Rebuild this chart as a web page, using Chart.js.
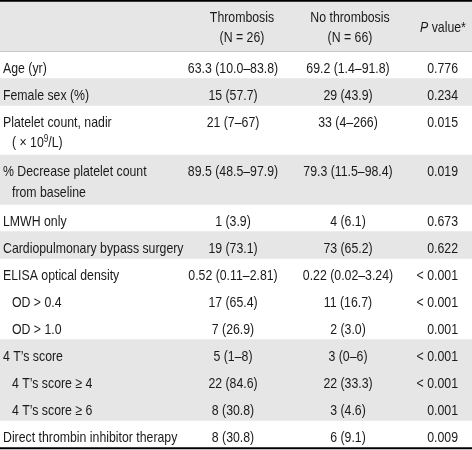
<!DOCTYPE html>
<html>
<head>
<meta charset="utf-8">
<script src="https://cdn.jsdelivr.net/npm/chart.js@4.4.1/dist/chart.umd.min.js"></script>
<style>
  html, body { margin: 0; padding: 0; background: #fff; }
  canvas { display: block; }
</style>
</head>
<body>
<canvas id="table" width="472" height="450"></canvas>
<script>
// ===== Data =====
// Markup: _x_ = italic, ^{x} = superscript, \n = wrapped line
const headers = ['', 'Thrombosis\n(N = 26)', 'No thrombosis\n(N = 66)', '_P_ value*'];

const rowLabels = [
  'Age (yr)',
  'Female sex (%)',
  'Platelet count, nadir\n( × 10^{9}/L)',
  '% Decrease platelet count\nfrom baseline',
  'LMWH only',
  'Cardiopulmonary bypass surgery',
  'ELISA optical density',
  'OD > 0.4',
  'OD > 1.0',
  '4 T’s score',
  '4 T’s score ≥ 4',
  '4 T’s score ≥ 6',
  'Direct thrombin inhibitor therapy',
];

const thrombosis = [
  '63.3 (10.0–83.8)', '15 (57.7)', '21 (7–67)', '89.5 (48.5–97.9)', '1 (3.9)',
  '19 (73.1)', '0.52 (0.11–2.81)', '17 (65.4)', '7 (26.9)', '5 (1–8)',
  '22 (84.6)', '8 (30.8)', '8 (30.8)',
];

const noThrombosis = [
  '69.2 (1.4–91.8)', '29 (43.9)', '33 (4–266)', '79.3 (11.5–98.4)', '4 (6.1)',
  '73 (65.2)', '0.22 (0.02–3.24)', '11 (16.7)', '2 (3.0)', '3 (0–6)',
  '22 (33.3)', '3 (4.6)', '6 (9.1)',
];

const pValues = [
  '0.776', '0.234', '0.015', '0.019', '0.673', '0.622', '< 0.001',
  '< 0.001', '0.001', '< 0.001', '< 0.001', '0.001', '0.009',
];

// sub-rows belong to the row above them (same shading group, indented)
const subRow = [0, 0, 0, 0, 0, 0, 0, 1, 1, 0, 1, 1, 0];

// ===== Layout / style =====
const FONT    = '"Liberation Sans", Arial, sans-serif';
const SIZE    = 15;
const NARROW  = 0.82;   // horizontal squeeze, gives an Arial-Narrow look
const INK     = '#1a1a1a';
const SHADE   = '#e6e6e6';
const LINE_H  = 22.5;   // y units per text line
const ROW_PAD = 4.5;    // y units of padding per row
const COL = { label: 3, indent: 12, thr: 233, noThr: 348, p: 458, thrHead: 242, noThrHead: 350, pHead: 443 };

const lines  = s => s.split('\n').length;
const height = n => ROW_PAD + LINE_H * n;

// row extents in y units (header first)
const headH = height(2);
const rowTops = [];
let acc = headH;
rowLabels.forEach(l => { rowTops.push(acc); acc += height(lines(l)); });
const total = acc;

// shading groups: header is group 0, each top-level row opens a new group
const groups = [{ top: 0, bottom: headH }];
rowLabels.forEach((l, i) => {
  const bottom = rowTops[i] + height(lines(l));
  if (subRow[i]) groups[groups.length - 1].bottom = bottom;
  else groups.push({ top: rowTops[i], bottom });
});

const band = (range, color) => ({
  data: [range], backgroundColor: color, borderWidth: 0,
  grouped: false, barPercentage: 1, categoryPercentage: 1,
});

const datasets = [
  ...groups.filter((g, i) => i % 2 === 0).map(g => band([g.top, g.bottom], SHADE)),
  band([-2, 0], '#000'),                    // top rule
  band([headH - 1, headH], '#444'),         // header rule
  band([total, total + 1.5], '#000'),       // bottom rule
];

// ── Rich text ───────────────────────────────────────────────────────────────

function segments(str) {
  return str.split(/(_[^_]+_|\^\{[^}]+\})/).filter(Boolean).map(s => {
    if (s[0] === '_') return { t: s.slice(1, -1), font: `italic ${SIZE}px ${FONT}`, dy: 0 };
    if (s[0] === '^') return { t: s.slice(2, -1), font: `${SIZE - 5}px ${FONT}`, dy: -5 };
    return { t: s, font: `${SIZE}px ${FONT}`, dy: 0 };
  });
}

function drawRich(ctx, str, x, y, align) {
  const segs = segments(str);
  let w = 0;
  segs.forEach(s => { ctx.font = s.font; s.w = ctx.measureText(s.t).width * NARROW; w += s.w; });
  let cx = align === 'center' ? x - w / 2 : align === 'right' ? x - w : x;
  segs.forEach(s => {
    ctx.save();
    ctx.font = s.font;
    ctx.translate(cx, y + s.dy);
    ctx.scale(NARROW, 1);
    ctx.fillText(s.t, 0, 0);
    ctx.restore();
    cx += s.w;
  });
}

const textPlugin = {
  id: 'cellText',
  afterDatasetsDraw(chart) {
    const { ctx } = chart;
    const y = chart.scales.y;
    ctx.save();
    ctx.fillStyle = INK;
    ctx.textAlign = 'left';
    ctx.textBaseline = 'alphabetic';

    // header
    const hTop = y.getPixelForValue(0);
    const drawHead = (str, x) => str.split('\n').forEach((ln, k) => drawRich(ctx, ln, x, hTop + 20 + k * 20, 'center'));
    drawHead(headers[1], COL.thrHead);
    drawHead(headers[2], COL.noThrHead);
    drawRich(ctx, headers[3], COL.pHead, hTop + 30, 'center');

    // body
    rowLabels.forEach((label, i) => {
      const base = y.getPixelForValue(rowTops[i]) + 21;
      label.split('\n').forEach((ln, k) => {
        const x = (subRow[i] || k > 0) ? COL.indent : COL.label;
        drawRich(ctx, ln, x, base + k * 20.5, 'left');
      });
      drawRich(ctx, thrombosis[i], COL.thr, base, 'center');
      drawRich(ctx, noThrombosis[i], COL.noThr, base, 'center');
      drawRich(ctx, pValues[i], COL.p, base, 'right');
    });
    ctx.restore();
  },
};

new Chart(document.getElementById('table'), {
  type: 'bar',
  data: { labels: ['table'], datasets },
  options: {
    responsive: false,
    animation: false,
    events: [],
    layout: { padding: 0 },
    plugins: { legend: { display: false }, tooltip: { enabled: false } },
    scales: {
      x: { display: false },
      y: { display: false, reverse: true, min: -2, max: total + 2.5 },
    },
  },
  plugins: [textPlugin],
});
</script>
</body>
</html>
